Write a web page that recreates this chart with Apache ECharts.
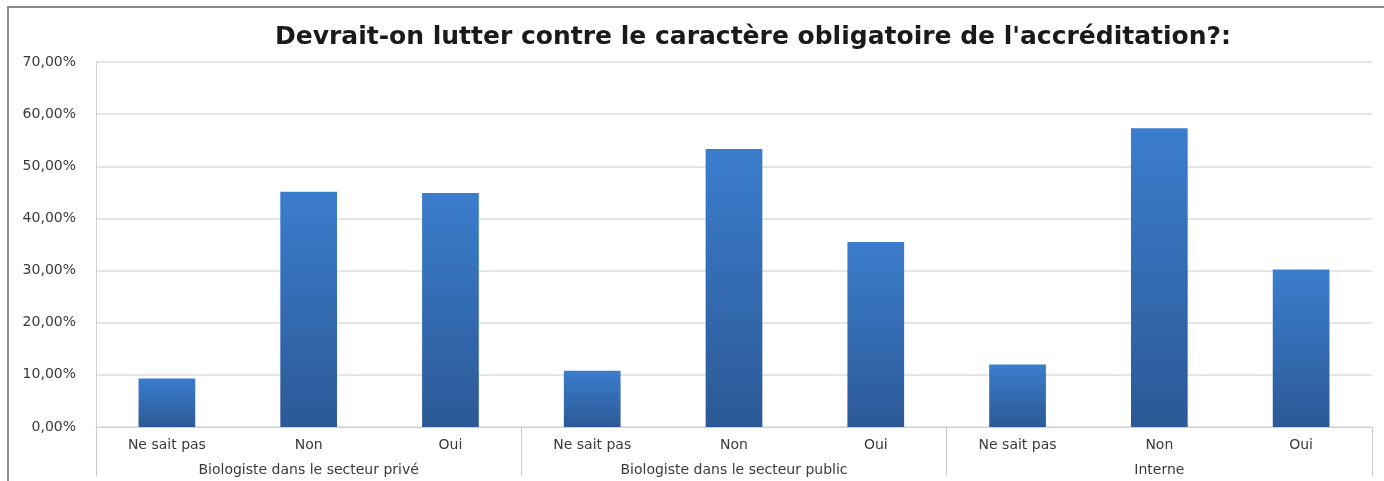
<!DOCTYPE html>
<html>
<head>
<meta charset="utf-8">
<script src="https://cdn.jsdelivr.net/npm/echarts@6/dist/echarts.min.js"></script>
<style>
  html, body { margin: 0; padding: 0; background: #fff; }
  #chart { width: 1384px; height: 481px; }
</style>
</head>
<body>
<div id="chart"></div>
<script>
  // groupes et réponses
  var groups = ['Biologiste dans le secteur privé', 'Biologiste dans le secteur public', 'Interne'];
  var answers = ['Ne sait pas', 'Non', 'Oui'];
  // pourcentages, dans l'ordre groupe x réponse
  var values = [9.3, 45.1, 44.9, 10.8, 53.3, 35.5, 12.0, 57.3, 30.2];
  var yTicks = [0, 10, 20, 30, 40, 50, 60, 70];

  var categories = [];
  groups.forEach(function () {
    answers.forEach(function (a) { categories.push(a); });
  });

  var chart = echarts.init(document.getElementById('chart'));

  var option = {
    animation: false,
    title: {
      text: "Devrait-on lutter contre le caractère obligatoire de l'accréditation?:",
      left: 748,
      textAlign: 'center',
      top: 20,
      textStyle: {
        fontFamily: 'DejaVu Sans',
        fontWeight: 'bold',
        fontSize: 25,
        color: '#1a1a1a'
      }
    },
    graphic: [{
      type: 'rect',
      shape: { x: 8, y: 7, width: 1400, height: 500 },
      style: { fill: 'none', stroke: '#8c8c8c', lineWidth: 2 },
      silent: true
    }],
    grid: {
      left: 96,
      right: 12,
      top: 62,
      bottom: 54
    },
    xAxis: [{
      type: 'category',
      data: categories,
      axisLine: { lineStyle: { color: '#d0d0d0' } },
      axisTick: { show: false },
      axisLabel: {
        interval: 0,
        margin: 11,
        fontFamily: 'DejaVu Sans',
        fontSize: 14,
        color: '#3a3a3a'
      }
    }, {
      type: 'category',
      data: groups,
      position: 'bottom',
      axisLine: { show: false },
      axisTick: {
        show: true,
        length: 49,
        lineStyle: { color: '#c8c8c8' }
      },
      axisLabel: {
        interval: 0,
        margin: 36,
        fontFamily: 'DejaVu Sans',
        fontSize: 14,
        color: '#3a3a3a'
      }
    }],
    yAxis: {
      type: 'value',
      min: yTicks[0],
      max: yTicks[yTicks.length - 1],
      interval: 10,
      axisLine: { show: true, lineStyle: { color: '#d0d0d0' } },
      axisTick: { show: false },
      splitLine: { lineStyle: { color: '#dcdcdc', width: 1.5 } },
      axisLabel: {
        margin: 20,
        fontFamily: 'DejaVu Sans',
        fontSize: 14,
        color: '#3a3a3a',
        formatter: function (v) {
          return v.toFixed(2).replace('.', ',') + '%';
        }
      }
    },
    series: [{
      type: 'bar',
      xAxisIndex: 0,
      data: values,
      barWidth: '40%',
      itemStyle: {
        color: new echarts.graphic.LinearGradient(0, 0, 0, 1, [
          { offset: 0, color: '#3b7dcd' },
          { offset: 1, color: '#2c5996' }
        ])
      }
    }]
  };

  chart.setOption(option);
</script>
</body>
</html>
